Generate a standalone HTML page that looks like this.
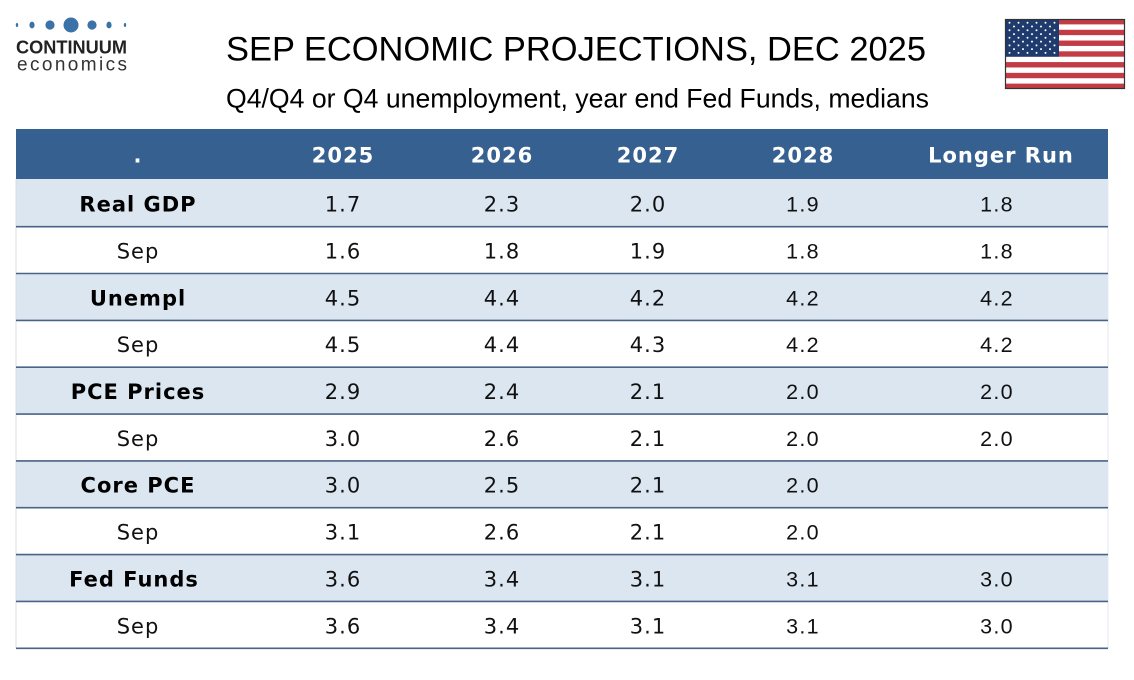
<!DOCTYPE html>
<html>
<head>
<meta charset="utf-8">
<style>
  html,body{margin:0;padding:0;background:#fff;}
  body{width:1134px;height:680px;overflow:hidden;}
  svg{display:block;}
  .v{font-family:"DejaVu Sans","Liberation Sans",sans-serif;font-size:21px;letter-spacing:1px;fill:#111;}
  .vb{font-family:"DejaVu Sans","Liberation Sans",sans-serif;font-size:21px;letter-spacing:1px;font-weight:bold;fill:#000;}
  .h{font-family:"DejaVu Sans","Liberation Sans",sans-serif;font-size:21px;letter-spacing:1px;font-weight:bold;fill:#fff;}
  .a{font-family:"Liberation Sans",Arial,sans-serif;font-size:21.5px;letter-spacing:1.3px;fill:#111;}
</style>
</head>
<body>
<svg width="1134" height="680" viewBox="0 0 1134 680" xmlns="http://www.w3.org/2000/svg">
  <rect width="1134" height="680" fill="#fff"/>

  <!-- Logo -->
  <g fill="#3B72A8">
    <ellipse cx="17" cy="25" rx="1.2" ry="2"/>
    <ellipse cx="32" cy="25" rx="2.6" ry="3.4"/>
    <circle cx="50" cy="25" r="4.6"/>
    <circle cx="71" cy="25" r="7.5"/>
    <circle cx="92" cy="25" r="4.6"/>
    <ellipse cx="109" cy="25" rx="2.6" ry="3.4"/>
    <ellipse cx="125" cy="25" rx="1.2" ry="2"/>
  </g>
  <text x="16" y="53.5" font-family="Liberation Sans, Arial, sans-serif" font-weight="bold" font-size="18" fill="#222" textLength="111" lengthAdjust="spacingAndGlyphs">CONTINUUM</text>
  <text x="17" y="70.5" font-family="Liberation Sans, Arial, sans-serif" font-size="19" fill="#333" textLength="110" lengthAdjust="spacing">economics</text>

  <!-- Title -->
  <text x="226" y="60.5" font-family="Liberation Sans, Arial, sans-serif" font-size="34" fill="#000" textLength="700" lengthAdjust="spacingAndGlyphs">SEP ECONOMIC PROJECTIONS, DEC 2025</text>
  <text x="226" y="107.5" font-family="Liberation Sans, Arial, sans-serif" font-size="26.5" fill="#000" textLength="703" lengthAdjust="spacingAndGlyphs">Q4/Q4 or Q4 unemployment, year end Fed Funds, medians</text>

  <!-- Flag -->
  <g>
    <rect x="1005" y="19" width="120" height="70" fill="#fff"/>
    <g fill="#C23B45">
      <rect x="1005" y="19" width="120" height="5.385"/>
      <rect x="1005" y="29.77" width="120" height="5.385"/>
      <rect x="1005" y="40.54" width="120" height="5.385"/>
      <rect x="1005" y="51.31" width="120" height="5.385"/>
      <rect x="1005" y="62.08" width="120" height="5.385"/>
      <rect x="1005" y="72.85" width="120" height="5.385"/>
      <rect x="1005" y="83.62" width="120" height="5.385"/>
    </g>
    <rect x="1005" y="19" width="54" height="37.7" fill="#1F3A6C"/>
    <g fill="#fff">
      <circle cx="1009.5" cy="22.8" r="1"/><circle cx="1018.5" cy="22.8" r="1"/><circle cx="1027.5" cy="22.8" r="1"/><circle cx="1036.5" cy="22.8" r="1"/><circle cx="1045.5" cy="22.8" r="1"/><circle cx="1054.5" cy="22.8" r="1"/>
      <circle cx="1014" cy="26.5" r="1"/><circle cx="1023" cy="26.5" r="1"/><circle cx="1032" cy="26.5" r="1"/><circle cx="1041" cy="26.5" r="1"/><circle cx="1050" cy="26.5" r="1"/>
      <circle cx="1009.5" cy="30.3" r="1"/><circle cx="1018.5" cy="30.3" r="1"/><circle cx="1027.5" cy="30.3" r="1"/><circle cx="1036.5" cy="30.3" r="1"/><circle cx="1045.5" cy="30.3" r="1"/><circle cx="1054.5" cy="30.3" r="1"/>
      <circle cx="1014" cy="34.1" r="1"/><circle cx="1023" cy="34.1" r="1"/><circle cx="1032" cy="34.1" r="1"/><circle cx="1041" cy="34.1" r="1"/><circle cx="1050" cy="34.1" r="1"/>
      <circle cx="1009.5" cy="37.8" r="1"/><circle cx="1018.5" cy="37.8" r="1"/><circle cx="1027.5" cy="37.8" r="1"/><circle cx="1036.5" cy="37.8" r="1"/><circle cx="1045.5" cy="37.8" r="1"/><circle cx="1054.5" cy="37.8" r="1"/>
      <circle cx="1014" cy="41.6" r="1"/><circle cx="1023" cy="41.6" r="1"/><circle cx="1032" cy="41.6" r="1"/><circle cx="1041" cy="41.6" r="1"/><circle cx="1050" cy="41.6" r="1"/>
      <circle cx="1009.5" cy="45.4" r="1"/><circle cx="1018.5" cy="45.4" r="1"/><circle cx="1027.5" cy="45.4" r="1"/><circle cx="1036.5" cy="45.4" r="1"/><circle cx="1045.5" cy="45.4" r="1"/><circle cx="1054.5" cy="45.4" r="1"/>
      <circle cx="1014" cy="49.1" r="1"/><circle cx="1023" cy="49.1" r="1"/><circle cx="1032" cy="49.1" r="1"/><circle cx="1041" cy="49.1" r="1"/><circle cx="1050" cy="49.1" r="1"/>
      <circle cx="1009.5" cy="52.9" r="1"/><circle cx="1018.5" cy="52.9" r="1"/><circle cx="1027.5" cy="52.9" r="1"/><circle cx="1036.5" cy="52.9" r="1"/><circle cx="1045.5" cy="52.9" r="1"/><circle cx="1054.5" cy="52.9" r="1"/>
    </g>
    <rect x="1005.5" y="19.5" width="119" height="69" fill="none" stroke="#333" stroke-width="1.2"/>
  </g>

  <!-- Table header -->
  <rect x="16" y="129" width="1092" height="50" fill="#36608F"/>
  <g text-anchor="middle">
    <text class="h" x="138" y="162.7">.</text>
    <text class="h" x="343" y="162.7">2025</text>
    <text class="h" x="502" y="162.7">2026</text>
    <text class="h" x="648" y="162.7">2027</text>
    <text class="h" x="803" y="162.7">2028</text>
    <text class="h" x="1001" y="162.7">Longer Run</text>
  </g>

  <!-- Shaded rows -->
  <g fill="#DCE6F1">
    <rect x="16" y="179" width="1092" height="47"/>
    <rect x="16" y="273.4" width="1092" height="46.8"/>
    <rect x="16" y="367.0" width="1092" height="46.8"/>
    <rect x="16" y="460.7" width="1092" height="46.8"/>
    <rect x="16" y="554.4" width="1092" height="46.8"/>
  </g>

  <!-- faint side borders -->
  <line x1="16" y1="179" x2="16" y2="648" stroke="#D4DFEC" stroke-width="1"/>
  <line x1="1108" y1="179" x2="1108" y2="648" stroke="#E2E9F2" stroke-width="1"/>

  <!-- Row lines -->
  <g stroke="#4A6386" stroke-width="1.6">
    <line x1="16" y1="226.7" x2="1108" y2="226.7"/>
    <line x1="16" y1="273.5" x2="1108" y2="273.5"/>
    <line x1="16" y1="320.4" x2="1108" y2="320.4"/>
    <line x1="16" y1="367.2" x2="1108" y2="367.2"/>
    <line x1="16" y1="414.1" x2="1108" y2="414.1"/>
    <line x1="16" y1="460.9" x2="1108" y2="460.9"/>
    <line x1="16" y1="507.7" x2="1108" y2="507.7"/>
    <line x1="16" y1="554.6" x2="1108" y2="554.6"/>
    <line x1="16" y1="601.4" x2="1108" y2="601.4"/>
    <line x1="16" y1="648.3" x2="1108" y2="648.3"/>
  </g>

  <!-- Rows -->
  <g text-anchor="middle">
    <!-- 0 -->
    <text class="vb" x="138" y="211.7">Real GDP</text>
    <text class="v" x="343" y="211.7">1.7</text>
    <text class="v" x="502" y="211.7">2.3</text>
    <text class="v" x="648" y="211.7">2.0</text>
    <text class="a" x="803" y="211.7">1.9</text>
    <text class="a" x="997" y="211.7">1.8</text>
    <!-- 1 -->
    <text class="v" x="138" y="258.5">Sep</text>
    <text class="v" x="343" y="258.5">1.6</text>
    <text class="v" x="502" y="258.5">1.8</text>
    <text class="v" x="648" y="258.5">1.9</text>
    <text class="a" x="803" y="258.5">1.8</text>
    <text class="a" x="997" y="258.5">1.8</text>
    <!-- 2 -->
    <text class="vb" x="138" y="305.4">Unempl</text>
    <text class="v" x="343" y="305.4">4.5</text>
    <text class="v" x="502" y="305.4">4.4</text>
    <text class="v" x="648" y="305.4">4.2</text>
    <text class="a" x="803" y="305.4">4.2</text>
    <text class="a" x="997" y="305.4">4.2</text>
    <!-- 3 -->
    <text class="v" x="138" y="352.2">Sep</text>
    <text class="v" x="343" y="352.2">4.5</text>
    <text class="v" x="502" y="352.2">4.4</text>
    <text class="v" x="648" y="352.2">4.3</text>
    <text class="a" x="803" y="352.2">4.2</text>
    <text class="a" x="997" y="352.2">4.2</text>
    <!-- 4 -->
    <text class="vb" x="138" y="399.1">PCE Prices</text>
    <text class="v" x="343" y="399.1">2.9</text>
    <text class="v" x="502" y="399.1">2.4</text>
    <text class="v" x="648" y="399.1">2.1</text>
    <text class="a" x="803" y="399.1">2.0</text>
    <text class="a" x="997" y="399.1">2.0</text>
    <!-- 5 -->
    <text class="v" x="138" y="445.9">Sep</text>
    <text class="v" x="343" y="445.9">3.0</text>
    <text class="v" x="502" y="445.9">2.6</text>
    <text class="v" x="648" y="445.9">2.1</text>
    <text class="a" x="803" y="445.9">2.0</text>
    <text class="a" x="997" y="445.9">2.0</text>
    <!-- 6 -->
    <text class="vb" x="138" y="492.7">Core PCE</text>
    <text class="v" x="343" y="492.7">3.0</text>
    <text class="v" x="502" y="492.7">2.5</text>
    <text class="v" x="648" y="492.7">2.1</text>
    <text class="a" x="803" y="492.7">2.0</text>
    <!-- 7 -->
    <text class="v" x="138" y="539.6">Sep</text>
    <text class="v" x="343" y="539.6">3.1</text>
    <text class="v" x="502" y="539.6">2.6</text>
    <text class="v" x="648" y="539.6">2.1</text>
    <text class="a" x="803" y="539.6">2.0</text>
    <!-- 8 -->
    <text class="vb" x="134" y="586.4">Fed Funds</text>
    <text class="v" x="343" y="586.4">3.6</text>
    <text class="v" x="502" y="586.4">3.4</text>
    <text class="v" x="648" y="586.4">3.1</text>
    <text class="a" x="803" y="586.4">3.1</text>
    <text class="a" x="997" y="586.4">3.0</text>
    <!-- 9 -->
    <text class="v" x="138" y="633.3">Sep</text>
    <text class="v" x="343" y="633.3">3.6</text>
    <text class="v" x="502" y="633.3">3.4</text>
    <text class="v" x="648" y="633.3">3.1</text>
    <text class="a" x="803" y="633.3">3.1</text>
    <text class="a" x="997" y="633.3">3.0</text>
  </g>
</svg>
</body>
</html>
